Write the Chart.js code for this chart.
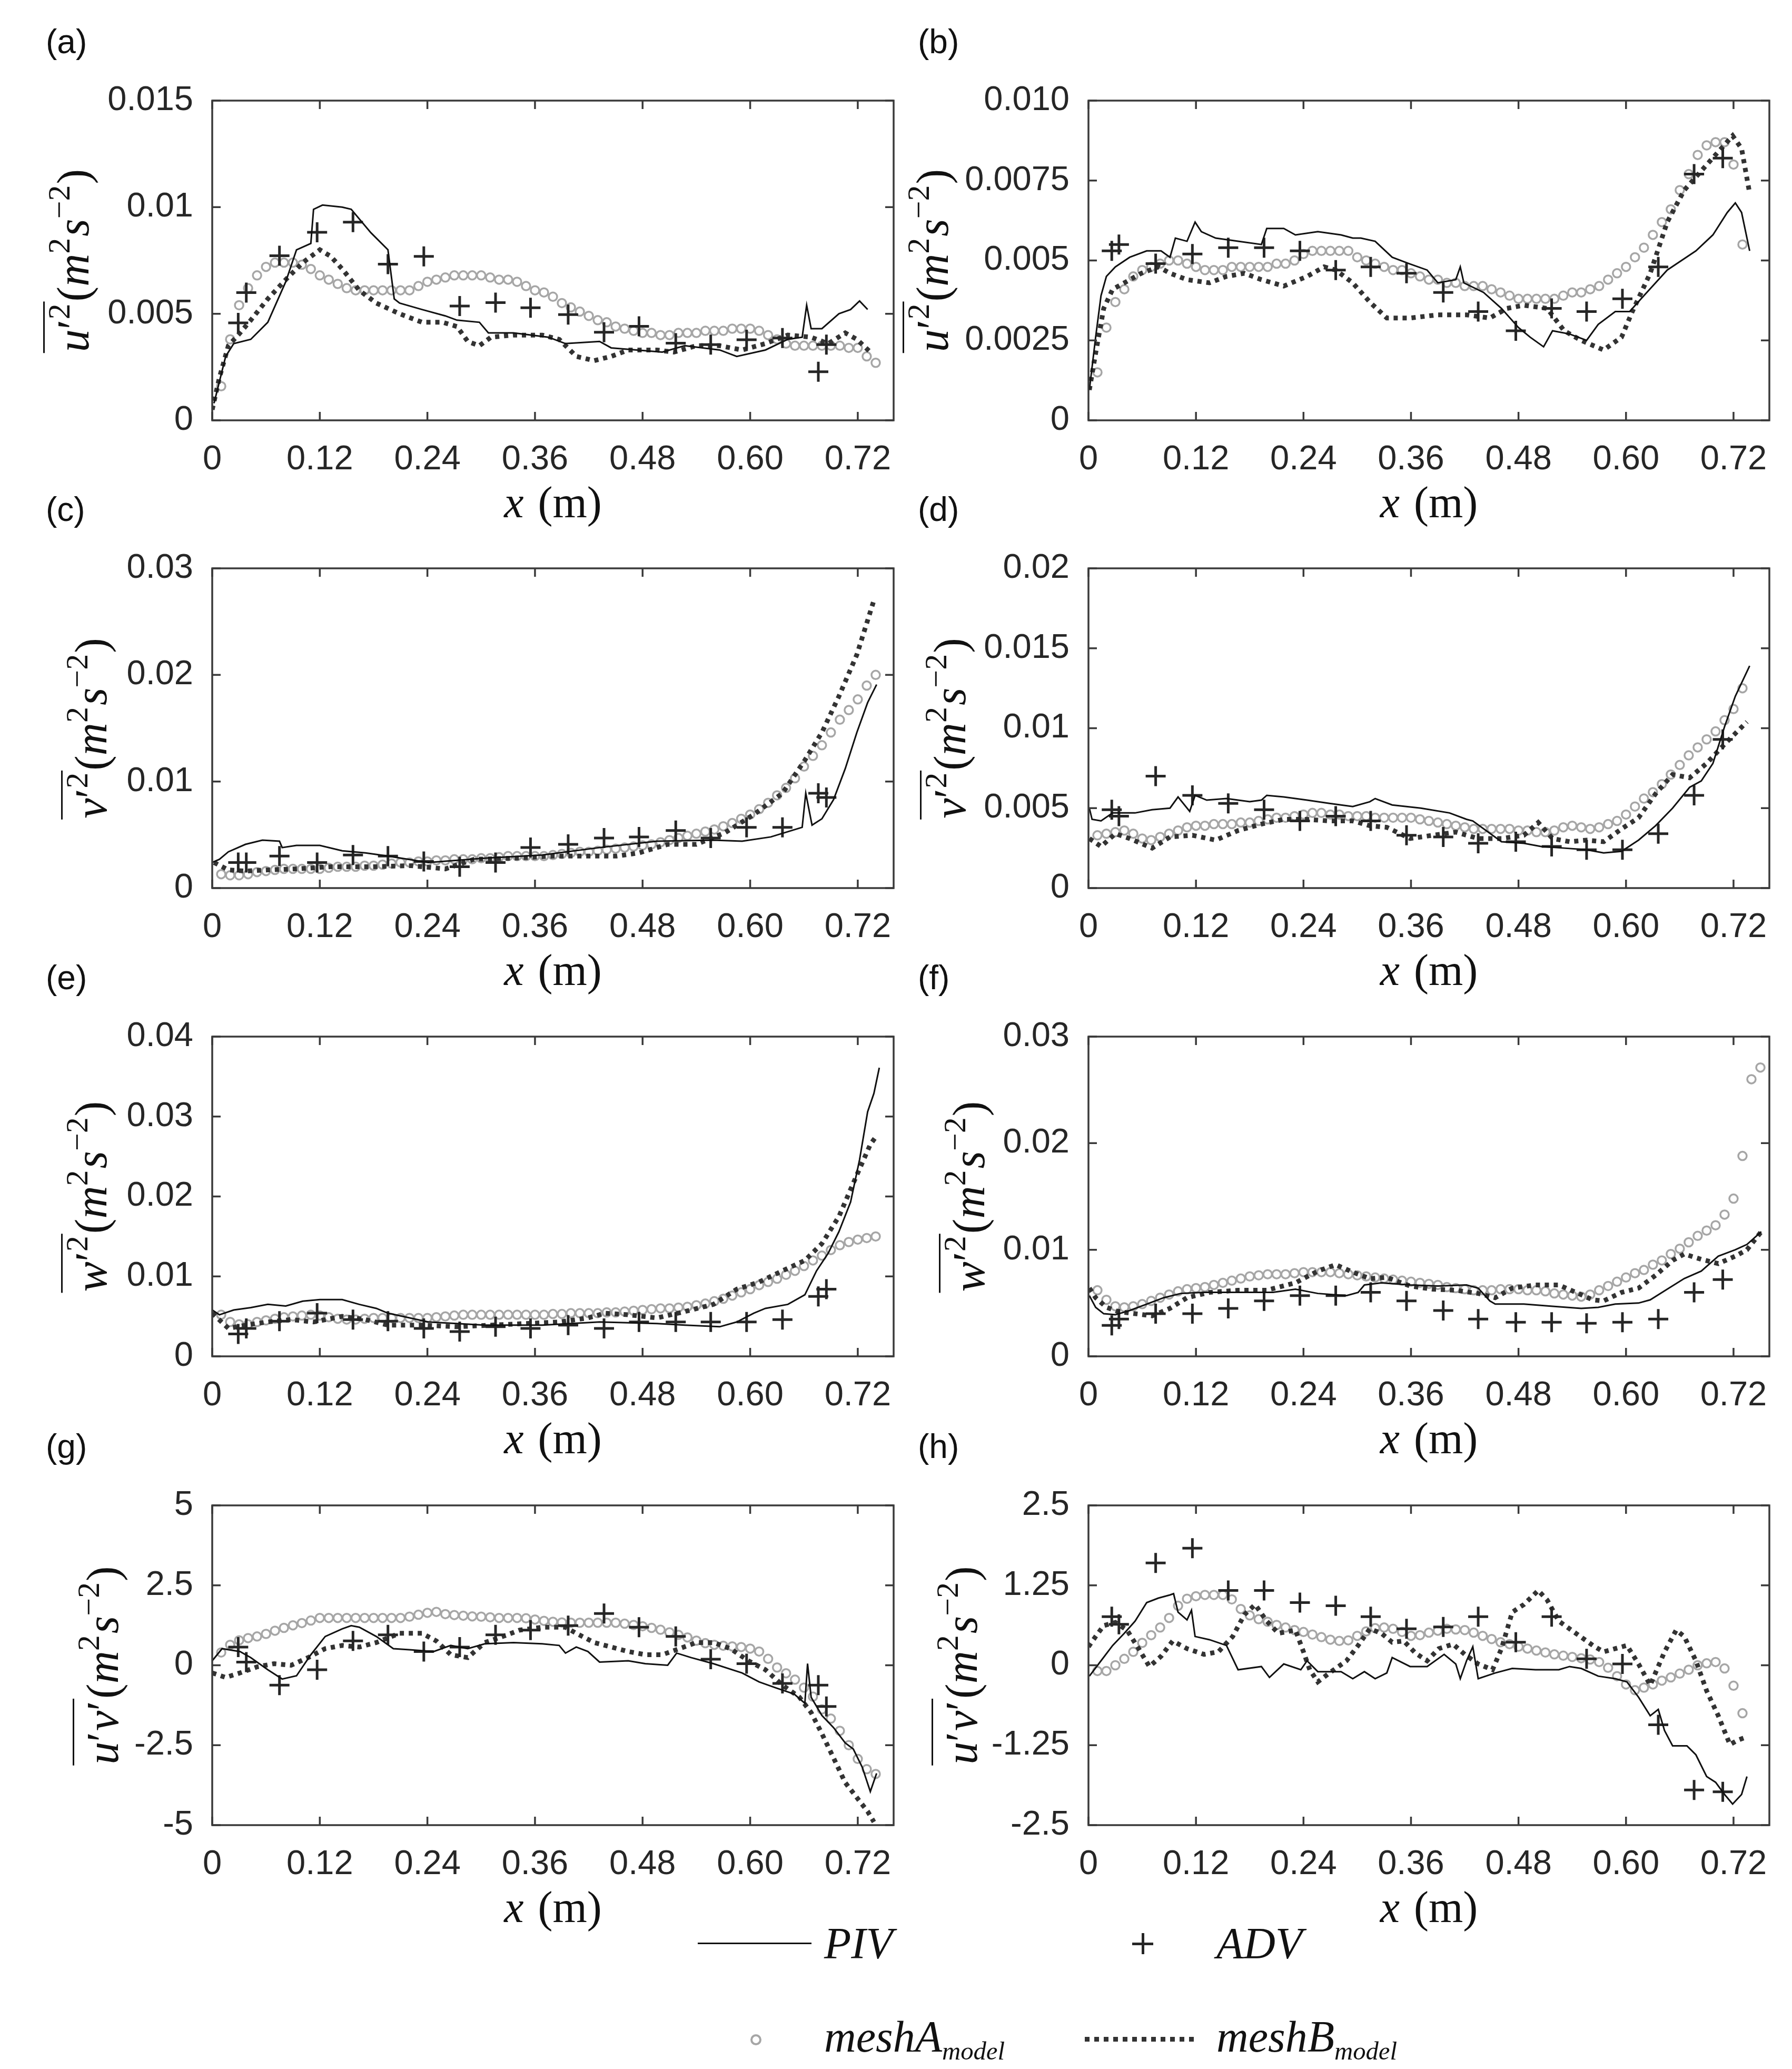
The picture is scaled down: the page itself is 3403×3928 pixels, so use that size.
<!DOCTYPE html>
<html>
<head>
<meta charset="utf-8">
<script src="https://cdn.jsdelivr.net/npm/chart.js@4.4.0/dist/chart.umd.min.js"></script>
<style>
html, body { margin: 0; padding: 0; background: #fff; }
body { width: 3403px; height: 3928px; position: relative; overflow: hidden; }
.tag { position: absolute; font-family: 'Liberation Sans', Arial, sans-serif; font-size: 64px; line-height: 1; color: #111; }
.leg { position: absolute; font-family: 'Liberation Serif', 'Times New Roman', serif; font-style: italic; font-size: 84px; line-height: 1; color: #111; transform: translateY(-50%); white-space: nowrap; }
.leg sub { font-size: 58%; vertical-align: -0.32em; }
.sym { position: absolute; }
</style>
</head>
<body>

<div class="tag" style="left:87px;top:47px">(a)</div>
<div class="tag" style="left:1743px;top:47px">(b)</div>
<div class="tag" style="left:87px;top:935px">(c)</div>
<div class="tag" style="left:1743px;top:935px">(d)</div>
<div class="tag" style="left:87px;top:1824px">(e)</div>
<div class="tag" style="left:1743px;top:1824px">(f)</div>
<div class="tag" style="left:87px;top:2714px">(g)</div>
<div class="tag" style="left:1743px;top:2714px">(h)</div>

<!-- legend -->
<div class="sym" style="left:1325px;top:3688px;width:216px;height:3px;background:#111"></div>
<div class="leg" style="left:1565px;top:3690px">PIV</div>
<div class="sym" style="left:2150px;top:3688px;width:40px;height:5px;background:#262626"></div>
<div class="sym" style="left:2168px;top:3670px;width:5px;height:40px;background:#262626"></div>
<div class="leg" style="left:2310px;top:3690px">ADV</div>
<div class="sym" style="left:1425px;top:3862px;width:21px;height:21px;box-sizing:border-box;border:4px solid #a6a6a6;border-radius:50%"></div>
<div class="leg" style="left:1565px;top:3872px">meshA<sub>model</sub></div>
<div class="sym" style="left:2060px;top:3867px;width:212px;height:9px;background:repeating-linear-gradient(90deg,#333 0 9px,transparent 9px 18px)"></div>
<div class="leg" style="left:2310px;top:3872px">meshB<sub>model</sub></div>

<script>
// ---------------- data ----------------
const xTickVals = [0, 0.12, 0.24, 0.36, 0.48, 0.60, 0.72];
const xTickLabels = ['0', '0.12', '0.24', '0.36', '0.48', '0.60', '0.72'];

const yTicks_a = [0, 0.005, 0.01, 0.015];
const yLabels_a = ['0', '0.005', '0.01', '0.015'];
const yTicks_b = [0, 0.0025, 0.005, 0.0075, 0.010];
const yLabels_b = ['0', '0.0025', '0.005', '0.0075', '0.010'];
const yTicks_c = [0, 0.01, 0.02, 0.03];
const yLabels_c = ['0', '0.01', '0.02', '0.03'];
const yTicks_d = [0, 0.005, 0.01, 0.015, 0.02];
const yLabels_d = ['0', '0.005', '0.01', '0.015', '0.02'];
const yTicks_e = [0, 0.01, 0.02, 0.03, 0.04];
const yLabels_e = ['0', '0.01', '0.02', '0.03', '0.04'];
const yTicks_f = [0, 0.01, 0.02, 0.03];
const yLabels_f = ['0', '0.01', '0.02', '0.03'];
const yTicks_g = [-5, -2.5, 0, 2.5, 5];
const yLabels_g = ['-5', '-2.5', '0', '2.5', '5'];
const yTicks_h = [-2.5, -1.25, 0, 1.25, 2.5];
const yLabels_h = ['-2.5', '-1.25', '0', '1.25', '2.5'];

// ADV probe stations
const advX_left = [0.029,0.038,0.075,0.117,0.157,0.196,0.236,0.276,0.316,0.355,0.397,0.437,0.476,0.517,0.556,0.596,0.636,0.676,0.685];
const advX_right = [0.026,0.034,0.075,0.116,0.156,0.196,0.236,0.276,0.315,0.355,0.396,0.435,0.477,0.517,0.556,0.596,0.636,0.676,0.708];

const advY_a = [0.00457,0.00599,0.00772,0.00882,0.0093,0.00733,0.00769,0.00536,0.00552,0.00528,0.00496,0.00413,0.00441,0.00362,0.00355,0.00378,0.00386,0.00228,0.00355];
const advY_b = [0.0053,0.0055,0.0049,0.0052,0.0054,0.0054,0.0053,0.0047,0.0048,0.0046,0.004,0.0034,0.0028,0.0035,0.0034,0.0038,0.0048,0.0077,0.0082];
const advY_c = [0.0024,0.0024,0.003,0.0024,0.0031,0.003,0.0025,0.002,0.0024,0.0038,0.0041,0.0047,0.0048,0.0054,0.0047,0.0057,0.0057,0.0089,0.0085];
const advY_d = [0.0049,0.0045,0.007,0.0058,0.0053,0.0049,0.0042,0.0045,0.0042,0.0033,0.0032,0.0028,0.0029,0.0026,0.0024,0.0024,0.0034,0.0058,0.0093];
const advY_e = [0.0028,0.0035,0.0044,0.0054,0.0046,0.0044,0.0035,0.0031,0.0037,0.0035,0.0039,0.0035,0.0043,0.0043,0.0043,0.0043,0.0046,0.0075,0.0084];
const advY_f = [0.0029,0.0035,0.004,0.004,0.0045,0.0052,0.0057,0.0057,0.006,0.0052,0.0043,0.0035,0.0032,0.0032,0.0031,0.0032,0.0035,0.006,0.0072];
const advY_g = [0.57,0.1,-0.62,-0.14,0.76,0.95,0.43,0.57,0.95,1.1,1.24,1.62,1.19,0.9,0.19,0.05,-0.57,-0.62,-1.29];
const advY_h = [0.76,0.64,1.6,1.83,1.17,1.17,0.98,0.93,0.76,0.57,0.6,0.76,0.36,0.76,0.1,0.02,-0.93,-1.95,-1.98];

// PIV profiles
const pivX_a = [0.002,0.015,0.024,0.043,0.062,0.082,0.094,0.110,0.113,0.123,0.145,0.155,0.177,0.196,0.203,0.209,0.234,0.260,0.273,0.298,0.308,0.336,0.375,0.394,0.432,0.445,0.502,0.527,0.566,0.585,0.617,0.642,0.658,0.663,0.668,0.680,0.699,0.712,0.722,0.731];
const pivY_a = [0.0008,0.003,0.0036,0.0038,0.0046,0.0065,0.008,0.0083,0.0099,0.0101,0.01,0.0099,0.0088,0.008,0.0057,0.0055,0.0052,0.0049,0.0047,0.0046,0.0041,0.0041,0.0039,0.0036,0.0037,0.0034,0.0032,0.0035,0.0033,0.003,0.0033,0.0038,0.0039,0.0054,0.0043,0.0043,0.005,0.0052,0.0056,0.0052];
const pivX_b = [0.001,0.008,0.014,0.02,0.03,0.046,0.065,0.081,0.091,0.097,0.11,0.119,0.126,0.142,0.167,0.193,0.199,0.218,0.231,0.256,0.282,0.295,0.304,0.32,0.339,0.358,0.378,0.39,0.41,0.415,0.419,0.441,0.461,0.48,0.493,0.508,0.518,0.537,0.556,0.569,0.588,0.604,0.62,0.646,0.678,0.697,0.713,0.722,0.729,0.738];
const pivY_b = [0.00095,0.0026,0.0039,0.0045,0.0048,0.0051,0.0053,0.0053,0.0051,0.0057,0.0056,0.0062,0.0059,0.0057,0.0056,0.0055,0.006,0.006,0.0058,0.0059,0.0058,0.0057,0.0057,0.0056,0.0051,0.0049,0.0047,0.0043,0.0044,0.0048,0.0043,0.004,0.0035,0.0029,0.0026,0.0023,0.0028,0.0027,0.0025,0.003,0.0034,0.0034,0.0039,0.0047,0.0053,0.0058,0.0065,0.0068,0.0065,0.0053];
const pivX_c = [0,0.008,0.018,0.037,0.056,0.075,0.078,0.094,0.12,0.145,0.171,0.196,0.241,0.304,0.368,0.432,0.496,0.559,0.591,0.623,0.658,0.662,0.669,0.68,0.693,0.706,0.719,0.731,0.741];
const pivY_c = [0.0024,0.0027,0.0034,0.0041,0.0045,0.0044,0.0038,0.004,0.004,0.0035,0.0033,0.003,0.0024,0.0028,0.0031,0.0038,0.0044,0.0045,0.0044,0.0048,0.0057,0.0089,0.0059,0.0065,0.0083,0.0112,0.0146,0.0174,0.0191];
const pivX_d = [0.001,0.004,0.014,0.027,0.052,0.071,0.091,0.1,0.113,0.119,0.132,0.154,0.18,0.193,0.199,0.218,0.244,0.269,0.295,0.314,0.32,0.339,0.371,0.403,0.422,0.429,0.461,0.486,0.505,0.531,0.556,0.575,0.595,0.614,0.633,0.652,0.671,0.684,0.697,0.71,0.722,0.738];
const pivY_d = [0.005,0.0043,0.0042,0.0047,0.0047,0.0049,0.005,0.0057,0.0048,0.0058,0.0055,0.0056,0.0054,0.0055,0.0058,0.0057,0.0055,0.0053,0.0051,0.0054,0.0056,0.0052,0.005,0.0047,0.0043,0.0042,0.0029,0.0028,0.0026,0.0025,0.0024,0.0022,0.0023,0.003,0.0039,0.005,0.0063,0.0067,0.0078,0.0101,0.012,0.0139];
const pivX_e = [0,0.008,0.024,0.043,0.062,0.082,0.101,0.12,0.145,0.164,0.183,0.196,0.241,0.304,0.368,0.432,0.496,0.527,0.566,0.585,0.604,0.617,0.642,0.661,0.674,0.687,0.699,0.712,0.722,0.731,0.738,0.744];
const pivY_e = [0.0058,0.0052,0.0058,0.0061,0.0065,0.0063,0.0069,0.0071,0.0071,0.0065,0.006,0.0054,0.0043,0.0039,0.0039,0.0043,0.0041,0.0039,0.0037,0.0043,0.0054,0.006,0.0065,0.0077,0.0107,0.0129,0.0156,0.0193,0.0246,0.0306,0.0329,0.0361];
const pivX_f = [0.001,0.008,0.017,0.03,0.046,0.065,0.084,0.103,0.129,0.167,0.206,0.231,0.256,0.288,0.301,0.308,0.327,0.359,0.39,0.422,0.435,0.448,0.454,0.486,0.518,0.55,0.569,0.588,0.614,0.627,0.646,0.665,0.684,0.703,0.722,0.735,0.751];
const pivY_f = [0.0057,0.0046,0.004,0.0039,0.0043,0.0049,0.0055,0.0059,0.006,0.006,0.006,0.0063,0.0059,0.0057,0.006,0.0067,0.0069,0.0067,0.0066,0.0067,0.0064,0.0052,0.0049,0.0049,0.0047,0.0045,0.0046,0.0049,0.005,0.0053,0.0063,0.0073,0.008,0.0094,0.01,0.0105,0.0117];
const pivX_g = [0,0.011,0.031,0.043,0.062,0.078,0.094,0.11,0.126,0.145,0.155,0.164,0.183,0.202,0.222,0.247,0.266,0.285,0.304,0.336,0.368,0.387,0.394,0.406,0.419,0.432,0.464,0.483,0.508,0.518,0.534,0.559,0.591,0.61,0.629,0.649,0.661,0.664,0.668,0.68,0.693,0.706,0.715,0.725,0.734,0.741];
const pivY_g = [0.14,0.52,0.43,0.24,-0.14,-0.43,-0.33,0.33,0.9,1.14,1.24,1.19,0.9,0.52,0.48,0.43,0.62,0.52,0.67,0.71,0.67,0.62,0.38,0.57,0.43,0.1,0.14,0.05,0.0,0.38,0.24,0.05,-0.24,-0.52,-0.71,-0.9,-1.19,0.05,-1.0,-1.57,-1.95,-2.43,-2.62,-3.19,-3.95,-3.38];
const pivX_h = [0.001,0.014,0.027,0.04,0.052,0.065,0.078,0.091,0.095,0.1,0.11,0.115,0.119,0.135,0.154,0.167,0.193,0.202,0.218,0.237,0.244,0.256,0.282,0.295,0.308,0.32,0.333,0.339,0.359,0.378,0.397,0.41,0.415,0.422,0.429,0.435,0.454,0.473,0.499,0.525,0.537,0.55,0.569,0.588,0.601,0.614,0.627,0.636,0.643,0.652,0.668,0.678,0.69,0.7,0.71,0.719,0.729,0.735];
const pivY_h = [-0.17,0.07,0.31,0.5,0.69,0.98,1.05,1.1,1.12,0.83,0.71,0.86,0.45,0.4,0.31,-0.07,-0.02,-0.19,0.02,-0.07,0.07,-0.1,-0.1,-0.21,-0.1,-0.21,-0.12,0.12,-0.02,-0.02,0.17,0.02,-0.21,0.07,0.29,-0.21,-0.12,-0.05,-0.07,-0.07,-0.02,-0.05,-0.17,-0.21,-0.26,-0.5,-0.79,-0.69,-1.02,-1.26,-1.26,-1.4,-1.74,-1.83,-2.02,-2.17,-2.02,-1.74];

// meshA model (circles), sampled along x
const meshAX = [0.01,0.02,0.03,0.04,0.05,0.06,0.07,0.08,0.09,0.10,0.11,0.12,0.13,0.14,0.15,0.16,0.17,0.18,0.19,0.20,0.21,0.22,0.23,0.24,0.25,0.26,0.27,0.28,0.29,0.30,0.31,0.32,0.33,0.34,0.35,0.36,0.37,0.38,0.39,0.40,0.41,0.42,0.43,0.44,0.45,0.46,0.47,0.48,0.49,0.50,0.51,0.52,0.53,0.54,0.55,0.56,0.57,0.58,0.59,0.60,0.61,0.62,0.63,0.64,0.65,0.66,0.67,0.68,0.69,0.70,0.71,0.72,0.73,0.74,0.75];
const meshAY_a = [0.0016,0.0038,0.0054,0.0062,0.0068,0.0072,0.0074,0.0074,0.0074,0.0073,0.0071,0.0068,0.0066,0.0064,0.0062,0.0061,0.0061,0.0061,0.0061,0.0061,0.0061,0.0061,0.0063,0.0065,0.0066,0.0067,0.0068,0.0068,0.0068,0.0068,0.0067,0.0066,0.0066,0.0065,0.0063,0.0061,0.006,0.0058,0.0055,0.0053,0.0051,0.0049,0.0047,0.0046,0.0044,0.0043,0.0042,0.0041,0.0041,0.004,0.004,0.0041,0.0041,0.0041,0.0042,0.0042,0.0042,0.0043,0.0043,0.0043,0.0042,0.004,0.0038,0.0036,0.0035,0.0035,0.0035,0.0035,0.0035,0.0035,0.0034,0.0034,0.003,0.0027];
const meshAY_b = [0.0015,0.0029,0.0037,0.0041,0.0045,0.0047,0.0048,0.0049,0.005,0.005,0.0049,0.0048,0.0047,0.0047,0.0047,0.0048,0.0048,0.0048,0.0048,0.0048,0.0049,0.0049,0.005,0.0052,0.0053,0.0053,0.0053,0.0053,0.0053,0.0051,0.005,0.0049,0.0048,0.0047,0.0047,0.0046,0.0045,0.0044,0.0044,0.0043,0.0043,0.0042,0.0042,0.0042,0.0041,0.004,0.0039,0.0038,0.0038,0.0038,0.0038,0.0038,0.0039,0.004,0.004,0.0041,0.0042,0.0044,0.0046,0.0048,0.0051,0.0054,0.0058,0.0062,0.0066,0.0072,0.0077,0.0083,0.0086,0.0087,0.0087,0.008,0.0055];
const meshAY_c = [0.0013,0.0012,0.0012,0.0013,0.0015,0.0016,0.0017,0.0018,0.0018,0.0018,0.0018,0.0018,0.0019,0.002,0.002,0.002,0.0021,0.0021,0.0022,0.0023,0.0024,0.0024,0.0025,0.0025,0.0026,0.0026,0.0027,0.0027,0.0027,0.0028,0.0028,0.0029,0.003,0.003,0.003,0.003,0.003,0.0031,0.0032,0.0033,0.0034,0.0034,0.0035,0.0036,0.0037,0.0038,0.0039,0.004,0.0041,0.0043,0.0045,0.0047,0.0049,0.0051,0.0053,0.0055,0.0058,0.0061,0.0065,0.0069,0.0074,0.008,0.0087,0.0094,0.0103,0.0114,0.0124,0.0134,0.0146,0.0158,0.0167,0.0177,0.019,0.02];
const meshAY_d = [0.0033,0.0034,0.0035,0.0036,0.0034,0.0031,0.003,0.0032,0.0034,0.0036,0.0038,0.0039,0.0039,0.004,0.004,0.004,0.0041,0.0041,0.0042,0.0043,0.0044,0.0044,0.0045,0.0046,0.0047,0.0047,0.0046,0.0046,0.0045,0.0045,0.0045,0.0044,0.0044,0.0044,0.0044,0.0044,0.0043,0.0042,0.0041,0.004,0.0039,0.0038,0.0037,0.0037,0.0037,0.0037,0.0037,0.0036,0.0036,0.0035,0.0035,0.0036,0.0038,0.0039,0.0038,0.0037,0.0038,0.004,0.0042,0.0046,0.0051,0.0056,0.006,0.0065,0.0071,0.0077,0.0083,0.0088,0.0093,0.0098,0.0105,0.0112,0.0125];
const meshAY_e = [0.0052,0.0043,0.004,0.004,0.0043,0.0045,0.0047,0.0049,0.005,0.0051,0.0052,0.0051,0.0049,0.0047,0.0046,0.0046,0.0047,0.0048,0.0048,0.0048,0.0048,0.0048,0.0048,0.0048,0.0049,0.005,0.0051,0.0052,0.0052,0.0052,0.0052,0.0052,0.0052,0.0052,0.0052,0.0052,0.0052,0.0053,0.0053,0.0054,0.0054,0.0054,0.0054,0.0055,0.0055,0.0056,0.0057,0.0058,0.0059,0.006,0.006,0.0061,0.0062,0.0064,0.0066,0.0069,0.0072,0.0076,0.008,0.0084,0.0089,0.0093,0.0097,0.0102,0.0107,0.0113,0.012,0.0126,0.0133,0.0139,0.0143,0.0146,0.0148,0.015];
const meshAY_f = [0.0062,0.0053,0.0047,0.0046,0.0047,0.0049,0.0052,0.0055,0.0058,0.0061,0.0063,0.0064,0.0065,0.0067,0.0069,0.0071,0.0073,0.0075,0.0076,0.0077,0.0077,0.0077,0.0078,0.0079,0.0079,0.0079,0.0079,0.0078,0.0077,0.0076,0.0075,0.0074,0.0073,0.0072,0.0071,0.007,0.0069,0.0068,0.0067,0.0065,0.0064,0.0063,0.0062,0.0062,0.0062,0.0063,0.0063,0.0063,0.0062,0.0062,0.0061,0.0059,0.0058,0.0057,0.0056,0.0058,0.0062,0.0066,0.007,0.0074,0.0078,0.0081,0.0086,0.009,0.0096,0.0101,0.0107,0.0113,0.0118,0.0123,0.0133,0.0148,0.0188,0.026,0.0271];
const meshAY_g = [0.4,0.64,0.78,0.85,0.9,0.98,1.08,1.17,1.25,1.32,1.4,1.48,1.48,1.48,1.48,1.48,1.48,1.48,1.48,1.48,1.48,1.52,1.58,1.64,1.67,1.6,1.57,1.55,1.53,1.52,1.5,1.48,1.48,1.48,1.47,1.43,1.39,1.36,1.34,1.33,1.33,1.33,1.33,1.33,1.33,1.3,1.26,1.22,1.17,1.11,1.03,0.95,0.87,0.77,0.69,0.64,0.61,0.59,0.57,0.52,0.43,0.2,-0.07,-0.25,-0.45,-0.7,-0.98,-1.38,-1.67,-2.05,-2.5,-2.93,-3.25,-3.4];
const meshAY_h = [-0.09,-0.09,0.0,0.1,0.21,0.35,0.47,0.59,0.74,0.93,1.04,1.08,1.1,1.1,1.1,1.03,0.88,0.78,0.72,0.68,0.63,0.59,0.55,0.52,0.48,0.44,0.4,0.38,0.39,0.46,0.53,0.58,0.59,0.57,0.52,0.46,0.47,0.51,0.54,0.57,0.56,0.55,0.51,0.46,0.41,0.36,0.33,0.29,0.26,0.23,0.2,0.17,0.15,0.13,0.11,0.09,0.05,-0.04,-0.17,-0.3,-0.39,-0.35,-0.3,-0.24,-0.19,-0.13,-0.07,0.0,0.03,0.05,-0.05,-0.32,-0.75];

// meshB model (dotted line)
const meshBX_a = [0,0.008,0.018,0.031,0.043,0.062,0.082,0.101,0.12,0.132,0.145,0.164,0.183,0.209,0.234,0.257,0.273,0.285,0.298,0.311,0.336,0.368,0.387,0.406,0.426,0.445,0.464,0.496,0.515,0.54,0.566,0.591,0.617,0.642,0.668,0.687,0.706,0.719,0.734];
const meshBY_a = [0.0005,0.002,0.0035,0.0041,0.0047,0.0057,0.0066,0.0074,0.008,0.0077,0.0071,0.0061,0.0055,0.005,0.0046,0.0046,0.0044,0.0037,0.0035,0.0039,0.004,0.004,0.0038,0.003,0.0028,0.003,0.0033,0.0033,0.0032,0.0035,0.0035,0.0033,0.0036,0.004,0.0039,0.0036,0.0041,0.0038,0.0032];
const meshBX_b = [0.001,0.008,0.017,0.027,0.04,0.059,0.078,0.091,0.11,0.135,0.154,0.174,0.193,0.218,0.244,0.263,0.276,0.295,0.314,0.333,0.359,0.39,0.422,0.448,0.467,0.486,0.512,0.531,0.55,0.575,0.595,0.607,0.627,0.646,0.665,0.684,0.703,0.719,0.729,0.738];
const meshBY_b = [0.00095,0.0021,0.0035,0.0041,0.0043,0.0046,0.0048,0.0046,0.0044,0.0043,0.0045,0.0046,0.0044,0.0042,0.0045,0.0048,0.0047,0.0043,0.0037,0.0032,0.0032,0.0033,0.0033,0.0032,0.0035,0.0036,0.0035,0.0028,0.0025,0.0022,0.0026,0.0034,0.0046,0.0062,0.0072,0.0078,0.0084,0.0089,0.0085,0.0071];
const meshBX_c = [0.002,0.018,0.037,0.062,0.094,0.132,0.177,0.222,0.26,0.292,0.336,0.381,0.419,0.451,0.476,0.508,0.54,0.572,0.604,0.636,0.661,0.68,0.699,0.719,0.738];
const meshBY_c = [0.0024,0.0017,0.0016,0.0017,0.0018,0.002,0.002,0.0021,0.0018,0.0027,0.0028,0.003,0.003,0.003,0.0033,0.0041,0.0041,0.0052,0.0069,0.0089,0.012,0.0146,0.018,0.0219,0.027];
const meshBX_d = [0.001,0.014,0.03,0.046,0.071,0.091,0.116,0.142,0.167,0.193,0.218,0.244,0.269,0.295,0.314,0.333,0.359,0.384,0.41,0.435,0.461,0.486,0.502,0.518,0.537,0.556,0.575,0.595,0.614,0.633,0.652,0.671,0.69,0.71,0.735];
const meshBY_d = [0.0031,0.0026,0.0034,0.0031,0.0025,0.0032,0.0033,0.003,0.0036,0.004,0.0043,0.0043,0.0042,0.0042,0.0039,0.0038,0.0031,0.0033,0.0035,0.0031,0.0031,0.0033,0.0041,0.0031,0.0029,0.003,0.0029,0.0037,0.0044,0.0059,0.0071,0.0069,0.0078,0.009,0.0104];
const meshBX_e = [0,0.018,0.037,0.062,0.088,0.113,0.145,0.171,0.196,0.234,0.273,0.311,0.349,0.387,0.419,0.438,0.464,0.496,0.527,0.559,0.585,0.61,0.636,0.661,0.68,0.699,0.719,0.734,0.741];
const meshBY_e = [0.0054,0.0035,0.0039,0.0043,0.0046,0.0043,0.005,0.0046,0.0039,0.0039,0.0037,0.0039,0.0041,0.0043,0.0048,0.0054,0.0052,0.0048,0.0056,0.0065,0.0084,0.0093,0.0107,0.012,0.0141,0.0175,0.0227,0.0265,0.0276];
const meshBX_f = [0.001,0.008,0.02,0.033,0.052,0.071,0.091,0.11,0.135,0.167,0.199,0.231,0.256,0.276,0.295,0.314,0.333,0.359,0.384,0.41,0.435,0.454,0.473,0.499,0.525,0.544,0.563,0.575,0.595,0.614,0.633,0.652,0.665,0.684,0.703,0.722,0.735,0.751];
const meshBY_f = [0.0064,0.0055,0.0046,0.0042,0.004,0.0038,0.0045,0.0055,0.006,0.0062,0.0062,0.0069,0.008,0.0086,0.0079,0.0073,0.0074,0.0066,0.0063,0.0062,0.0059,0.0055,0.0064,0.0067,0.0067,0.006,0.0053,0.0052,0.006,0.0064,0.0076,0.009,0.0096,0.0091,0.0087,0.0094,0.01,0.0117];
const meshBX_g = [0,0.015,0.031,0.05,0.069,0.088,0.107,0.126,0.145,0.164,0.183,0.209,0.234,0.25,0.266,0.285,0.304,0.324,0.343,0.368,0.394,0.406,0.426,0.445,0.464,0.483,0.502,0.521,0.54,0.559,0.578,0.598,0.617,0.636,0.655,0.668,0.68,0.693,0.706,0.719,0.731,0.738];
const meshBY_g = [-0.24,-0.38,-0.24,-0.05,0.05,0.0,0.24,0.52,0.62,0.57,0.71,1.0,1.0,0.76,0.33,0.24,0.71,0.9,1.1,1.19,1.19,1.0,0.71,0.57,0.43,0.33,0.33,0.52,0.71,0.71,0.52,0.14,-0.14,-0.62,-1.0,-1.48,-2.14,-2.9,-3.67,-4.14,-4.57,-4.9];
const meshBX_h = [0,0.008,0.017,0.03,0.043,0.056,0.068,0.081,0.094,0.11,0.129,0.145,0.161,0.174,0.186,0.199,0.212,0.231,0.24,0.247,0.256,0.269,0.288,0.301,0.314,0.327,0.339,0.352,0.365,0.378,0.391,0.407,0.42,0.435,0.451,0.461,0.473,0.486,0.502,0.512,0.525,0.544,0.563,0.575,0.588,0.601,0.614,0.627,0.643,0.656,0.665,0.678,0.69,0.703,0.716,0.725,0.735];
const meshBY_h = [0.29,0.45,0.62,0.67,0.55,0.26,-0.02,0.14,0.38,0.26,0.17,0.21,0.45,0.79,0.95,0.69,0.5,0.55,0.21,-0.07,-0.26,-0.12,0.07,0.31,0.57,0.5,0.36,0.38,0.19,0.07,0.26,0.33,0.17,0.02,-0.07,0.26,0.83,0.95,1.17,1.02,0.69,0.5,0.31,0.21,0.26,0.31,0.02,-0.31,0.21,0.55,0.45,0.07,-0.4,-0.79,-1.24,-1.17,-1.12];

// ---------------- layout / style ----------------
const SANS = "'Liberation Sans', Arial, sans-serif";
const SERIF = "'Liberation Serif', 'Times New Roman', serif";
const INK = '#262626';
const colLeft = [403, 2067];
const plotW = [1294, 1293];
const rowTop = [191, 1079, 1968, 2858];
const plotH = 607;
const PAD_L = 380, PAD_T = 90, PAD_R = 40, PAD_B = 240;
const TICK_FONT = 65, YT_SIZE = 86, XT_SIZE = 84;

const panels = [
  { col: 0, row: 0, sym: 'u', min: 0, max: 0.015, yt: yTicks_a, yl: yLabels_a, off: 261, piv: [pivX_a, pivY_a], adv: [advX_left, advY_a], mA: meshAY_a, mB: [meshBX_a, meshBY_a] },
  { col: 1, row: 0, sym: 'u', min: 0, max: 0.010, yt: yTicks_b, yl: yLabels_b, off: 293, piv: [pivX_b, pivY_b], adv: [advX_right, advY_b], mA: meshAY_b, mB: [meshBX_b, meshBY_b] },
  { col: 0, row: 1, sym: 'v', min: 0, max: 0.03, yt: yTicks_c, yl: yLabels_c, off: 227, piv: [pivX_c, pivY_c], adv: [advX_left, advY_c], mA: meshAY_c, mB: [meshBX_c, meshBY_c] },
  { col: 1, row: 1, sym: 'v', min: 0, max: 0.02, yt: yTicks_d, yl: yLabels_d, off: 260, piv: [pivX_d, pivY_d], adv: [advX_right, advY_d], mA: meshAY_d, mB: [meshBX_d, meshBY_d] },
  { col: 0, row: 2, sym: 'w', min: 0, max: 0.04, yt: yTicks_e, yl: yLabels_e, off: 227, piv: [pivX_e, pivY_e], adv: [advX_left, advY_e], mA: meshAY_e, mB: [meshBX_e, meshBY_e] },
  { col: 1, row: 2, sym: 'w', min: 0, max: 0.03, yt: yTicks_f, yl: yLabels_f, off: 224, piv: [pivX_f, pivY_f], adv: [advX_right, advY_f], mA: meshAY_f, mB: [meshBX_f, meshBY_f] },
  { col: 0, row: 3, sym: 'uv', min: -5, max: 5, yt: yTicks_g, yl: yLabels_g, off: 205, piv: [pivX_g, pivY_g], adv: [advX_left, advY_g], mA: meshAY_g, mB: [meshBX_g, meshBY_g] },
  { col: 1, row: 3, sym: 'uv', min: -2.5, max: 2.5, yt: yTicks_h, yl: yLabels_h, off: 238, piv: [pivX_h, pivY_h], adv: [advX_right, advY_h], mA: meshAY_h, mB: [meshBX_h, meshBY_h] }
];

function pts(xs, ys) {
  const n = Math.min(xs.length, ys.length);
  const out = [];
  for (let i = 0; i < n; i++) out.push({ x: xs[i], y: ys[i] });
  return out;
}

// draws a run of text pieces with different fonts, centred on cx
function drawRich(ctx, parts, cx, base) {
  let w = 0;
  parts.forEach(p => { ctx.font = p.f; p.w = ctx.measureText(p.t).width + (p.gap || 0); w += p.w; });
  let x = cx - w / 2;
  parts.forEach(p => {
    ctx.font = p.f;
    p.x0 = x;
    ctx.fillText(p.t, x, base + (p.dy || 0));
    x += p.w;
    p.x1 = x;
  });
  return parts;
}

function yTitleParts(sym) {
  const F = YT_SIZE, S = Math.round(F * 0.7);
  const it = `italic ${F}px ${SERIF}`, up = `${F}px ${SERIF}`, sm = `${S}px ${SERIF}`;
  const rise = -0.42 * F;
  let head;
  if (sym === 'uv') head = [{ t: 'u', f: it }, { t: '′', f: up, gap: 2 }, { t: 'v', f: it }, { t: '′', f: up, gap: 4 }];
  else head = [{ t: sym, f: it }, { t: '′', f: up }, { t: '2', f: sm, dy: rise, gap: 4 }];
  head.forEach(h => { h.over = true; });
  return head.concat([
    { t: '(', f: up }, { t: 'm', f: it }, { t: '2', f: sm, dy: rise, gap: 3 },
    { t: 's', f: it }, { t: '−2', f: sm, dy: rise, gap: 2 }, { t: ')', f: up }
  ]);
}

const frame = {
  id: 'frame',
  afterDraw(chart) {
    const { ctx, chartArea: a, scales } = chart;
    const sx = scales.x, sy = scales.y;
    const p = chart.options.plugins.frame;
    ctx.save();
    ctx.strokeStyle = '#3a3a3a';
    ctx.lineWidth = 3.5;
    ctx.strokeRect(a.left, a.top, a.right - a.left, a.bottom - a.top);
    const tl = 16;
    ctx.beginPath();
    sx.ticks.forEach(t => {
      const px = sx.getPixelForValue(t.value);
      ctx.moveTo(px, a.bottom); ctx.lineTo(px, a.bottom - tl);
      ctx.moveTo(px, a.top); ctx.lineTo(px, a.top + tl);
    });
    sy.ticks.forEach(t => {
      const py = sy.getPixelForValue(t.value);
      ctx.moveTo(a.left, py); ctx.lineTo(a.left + tl, py);
      ctx.moveTo(a.right, py); ctx.lineTo(a.right - tl, py);
    });
    ctx.stroke();

    ctx.fillStyle = '#111';
    ctx.textAlign = 'left';
    ctx.textBaseline = 'alphabetic';
    // x title
    drawRich(ctx, [{ t: 'x', f: `italic ${XT_SIZE}px ${SERIF}`, gap: 6 }, { t: ' (m)', f: `${XT_SIZE}px ${SERIF}` }],
      (a.left + a.right) / 2, a.bottom + 184);
    // y title, rotated
    ctx.translate(a.left - p.off, (a.top + a.bottom) / 2);
    ctx.rotate(-Math.PI / 2);
    const base = 0.3 * YT_SIZE;
    const parts = drawRich(ctx, yTitleParts(p.sym), 0, base);
    const ov = parts.filter(q => q.over);
    ctx.lineWidth = 3;
    ctx.strokeStyle = '#111';
    ctx.beginPath();
    ctx.moveTo(ov[0].x0 - 2, base - 0.98 * YT_SIZE);
    ctx.lineTo(ov[ov.length - 1].x1, base - 0.98 * YT_SIZE);
    ctx.stroke();
    ctx.restore();
  }
};

panels.forEach(p => {
  const W = plotW[p.col] + PAD_L + PAD_R;
  const H = plotH + PAD_T + PAD_B;
  const cv = document.createElement('canvas');
  cv.width = W; cv.height = H;
  cv.style.cssText = `position:absolute;left:${colLeft[p.col] - PAD_L}px;top:${rowTop[p.row] - PAD_T}px;width:${W}px;height:${H}px`;
  document.body.appendChild(cv);

  new Chart(cv, {
    type: 'line',
    data: {
      datasets: [
        { label: 'PIV', data: pts(p.piv[0], p.piv[1]), borderColor: '#111', borderWidth: 3, pointRadius: 0, tension: 0, fill: false, order: 1 },
        { label: 'ADV', data: pts(p.adv[0], p.adv[1]), showLine: false, pointStyle: 'cross', pointRadius: 19, pointBorderWidth: 5, pointBorderColor: INK, borderColor: INK, order: 2 },
        { label: 'meshB', data: pts(p.mB[0], p.mB[1]), borderColor: '#333', borderWidth: 9, borderDash: [8, 9], borderCapStyle: 'butt', pointRadius: 0, tension: 0, fill: false, order: 3 },
        { label: 'meshA', data: pts(meshAX, p.mA), showLine: false, pointStyle: 'circle', pointRadius: 8, pointBorderWidth: 3.5, pointBorderColor: '#a6a6a6', pointBackgroundColor: 'rgba(0,0,0,0)', borderColor: '#a6a6a6', order: 4 }
      ]
    },
    options: {
      responsive: false,
      animation: false,
      devicePixelRatio: 1,
      events: [],
      layout: { padding: { left: 0, top: PAD_T, right: PAD_R, bottom: 0 } },
      plugins: {
        legend: { display: false },
        tooltip: { enabled: false },
        frame: { sym: p.sym, off: p.off }
      },
      scales: {
        x: {
          type: 'linear', min: 0, max: 0.76,
          grid: { display: false, drawTicks: false },
          border: { display: false },
          afterBuildTicks: s => { s.ticks = xTickVals.map(v => ({ value: v })); },
          afterFit: s => { s.height = PAD_B; },
          ticks: { autoSkip: false, maxRotation: 0, padding: 36, color: INK, font: { family: SANS, size: TICK_FONT }, callback: (v, i) => xTickLabels[i] }
        },
        y: {
          type: 'linear', min: p.min, max: p.max,
          grid: { display: false, drawTicks: false },
          border: { display: false },
          afterBuildTicks: s => { s.ticks = p.yt.map(v => ({ value: v })); },
          afterFit: s => { s.width = PAD_L; },
          ticks: { autoSkip: false, padding: 36, color: INK, font: { family: SANS, size: TICK_FONT }, callback: (v, i) => p.yl[i] }
        }
      }
    },
    plugins: [frame]
  });
});
</script>
</body>
</html>
